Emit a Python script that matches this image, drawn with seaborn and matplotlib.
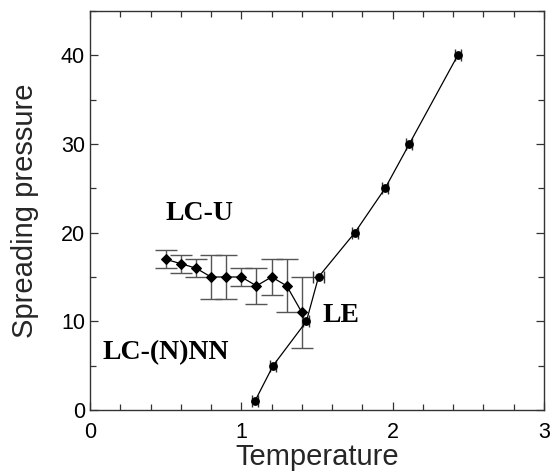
import numpy as np
import pandas as pd
import seaborn as sns
import matplotlib.pyplot as plt
from matplotlib.ticker import MultipleLocator

# LC-U branch (diamonds)
lcu_temp = [0.5, 0.6, 0.7, 0.8, 0.9, 1.0, 1.1, 1.2, 1.3, 1.4]
lcu_pres = [17, 16.5, 16, 15, 15, 15, 14, 15, 14, 11]
lcu_err = [1, 1, 1, 2.5, 2.5, 1, 2, 2, 3, 4]

# LE branch (circles)
le_temp = [1.09, 1.21, 1.43, 1.51, 1.75, 1.95, 2.11, 2.43]
le_pres = [1, 5, 10, 15, 20, 25, 30, 40]
le_xerr = [0.02, 0.02, 0.02, 0.035, 0.02, 0.02, 0.02, 0.02]

sns.set_style("ticks")
plt.rcParams['font.family'] = ['Liberation Sans', 'DejaVu Sans']

fig, ax = plt.subplots(figsize=(5.51, 4.72), dpi=100)
fig.subplots_adjust(left=0.1633, right=0.9873, top=0.9767, bottom=0.1314)

lcu = pd.DataFrame({'T': lcu_temp, 'P': lcu_pres})
le = pd.DataFrame({'T': le_temp, 'P': le_pres})

ax.errorbar(lcu_temp, lcu_pres, yerr=lcu_err, fmt='none', ecolor='#555555',
            elinewidth=1, capsize=8, capthick=1, zorder=1)
ax.errorbar(le_temp, le_pres, xerr=le_xerr, fmt='none', ecolor='#333333',
            elinewidth=1, capsize=4, capthick=1, zorder=1)

sns.lineplot(data=lcu, x='T', y='P', ax=ax, color='black', linewidth=0.9,
             marker='D', markersize=5, markeredgecolor='black', sort=False,
             zorder=3)
sns.lineplot(data=le, x='T', y='P', ax=ax, color='black', linewidth=0.9,
             marker='o', markersize=5.5, markeredgecolor='black', sort=False,
             zorder=3)

ax.set_xlim(0, 3)
ax.set_ylim(0, 45)
ax.xaxis.set_major_locator(MultipleLocator(1))
ax.xaxis.set_minor_locator(MultipleLocator(0.2))
ax.yaxis.set_major_locator(MultipleLocator(10))
ax.yaxis.set_minor_locator(MultipleLocator(5))
ax.tick_params(which='both', direction='in', top=True, right=True,
               colors='#333333', labelcolor='black', labelsize=15.5)
ax.tick_params(which='major', length=6, width=0.9)
ax.tick_params(which='minor', length=4, width=0.9)
ax.tick_params(axis='x', which='major', pad=8.5)
for s in ax.spines.values():
    s.set_color('#333333')
    s.set_linewidth(1)

ax.set_xlabel('Temperature', fontsize=21, labelpad=0)
ax.set_ylabel('Spreading pressure', fontsize=21, labelpad=16)

lab = dict(fontsize=20, fontweight='bold', family='Liberation Serif', color='black')
ax.text(0.5, 21.45, 'LC-U', **lab)
ax.text(1.535, 9.9, 'LE', **lab)
ax.text(0.08, 5.75, 'LC-(N)NN', **lab)

fig.savefig('out.png', dpi=100)
